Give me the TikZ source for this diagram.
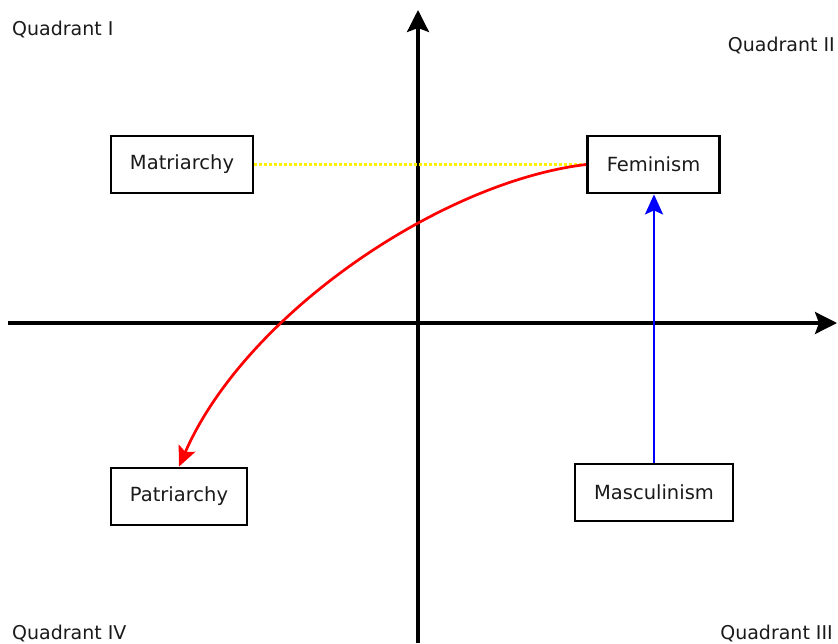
\documentclass[tikz,border=0pt]{standalone}
\usepackage{fontspec}
\setmainfont{DejaVu Sans}
\usetikzlibrary{arrows.meta}
\definecolor{txt}{HTML}{1a1a1a}
\tikzset{
  concept/.style={draw=black, line width=2.8pt, minimum height=57pt, inner sep=0pt,
    text=txt, font=\fontsize{19.5}{22}\selectfont},
  quad/.style={text=txt, font=\fontsize{19}{22}\selectfont, inner sep=0pt},
  axis/.style={line width=3.2pt, -{Stealth[length=22pt,width=22pt,inset=4pt]}},
  link/.style={line width=2.7pt, -{Stealth[length=20pt,width=18pt,inset=4pt]}}
}
\begin{document}
\begin{tikzpicture}[x=1pt,y=-1pt]
\useasboundingbox (0,0) rectangle (838,643);
% axes
\coordinate (vbot) at (418,643);
\coordinate (vtop) at (418,10);
\coordinate (hleft) at (8,323);
\coordinate (hright) at (837,323);
\draw[axis] (vbot) -- (vtop);
\draw[axis] (hleft) -- (hright);
% boxes
\node[concept, minimum width=142pt] (mat) at (182,164.5) {Matriarchy};
\node[concept, minimum width=132pt] (fem) at (653.5,164.5) {Feminism};
\node[concept, minimum width=136pt] (pat) at (179,496.5) {Patriarchy};
\node[concept, minimum width=158pt] (mas) at (654,492.5) {Masculinism};
% connectors
\draw[yellow, line width=2.6pt, dash pattern=on 2.5pt off 2.5pt] (mat.east) -- (fem.west);
\draw[link, blue] (mas.north) -- (mas.north |- fem.south);
\draw[link, red] (fem.west) .. controls (440,182) and (245,315) .. (pat.north);
% quadrant labels
\node[quad, anchor=west] (q1) at (12,30) {Quadrant I};
\node[quad, anchor=east] (q2) at (835,46) {Quadrant II};
\node[quad, anchor=east] (q3) at (833,633) {Quadrant III};
\node[quad, anchor=west] (q4) at (12,633) {Quadrant IV};
\end{tikzpicture}
\end{document}
